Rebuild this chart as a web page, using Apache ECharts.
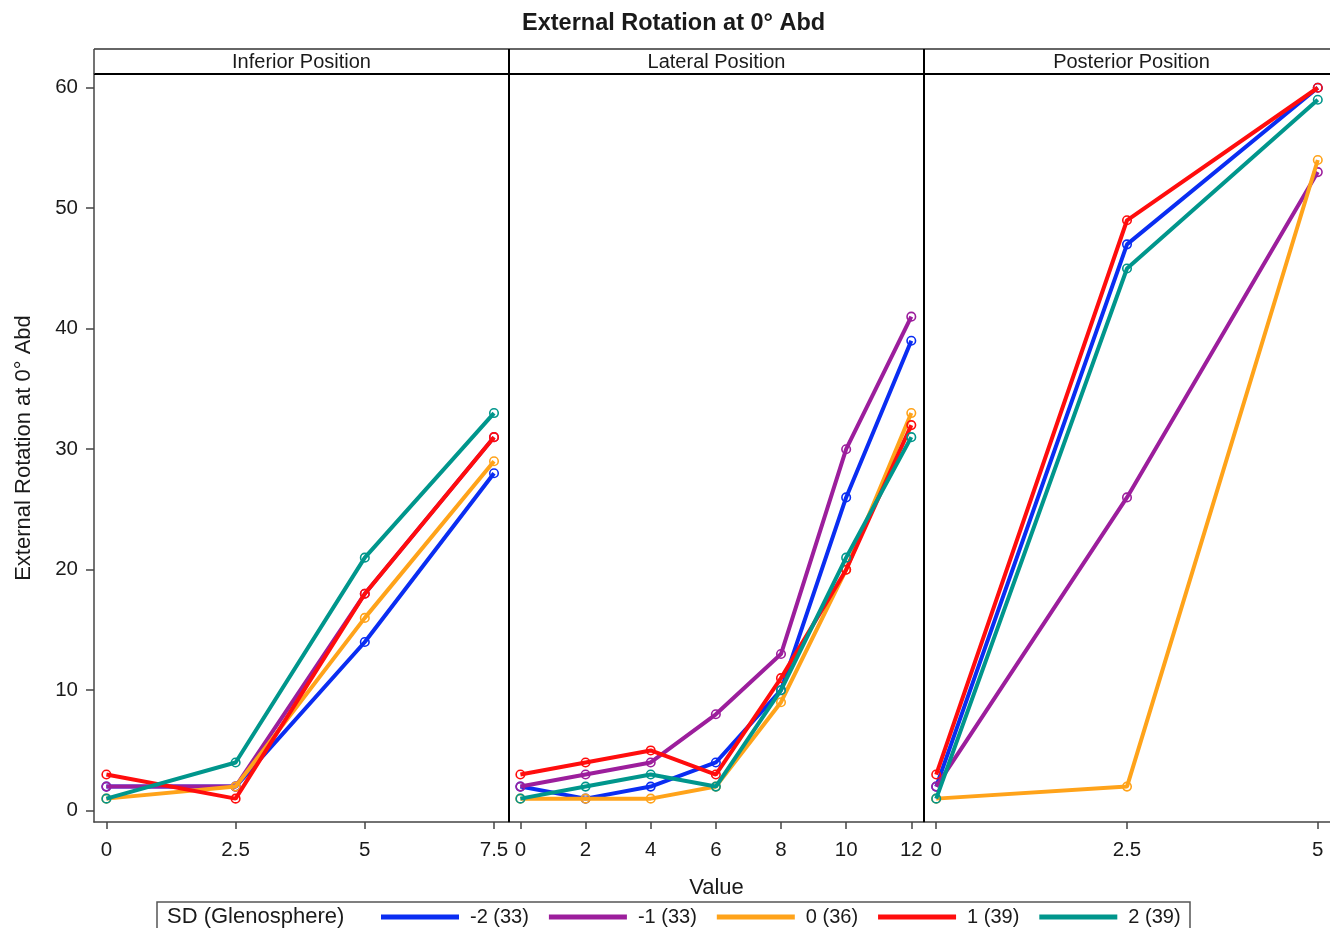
<!DOCTYPE html>
<html>
<head>
<meta charset="utf-8">
<script src="https://cdn.jsdelivr.net/npm/echarts@6/dist/echarts.min.js"></script>
<style>
  html, body { margin: 0; padding: 0; background: #fff; }
  #chart { width: 1330px; height: 928px; }
</style>
</head>
<body>
<div id="chart"></div>
<script>
// Panels and groups
const panelNames = ['Inferior Position', 'Lateral Position', 'Posterior Position'];
const groupNames = ['-2 (33)', '-1 (33)', '0 (36)', '1 (39)', '2 (39)'];
const groupColors = ['#0a2df2', '#9c1e9c', '#ffa31a', '#ff0d0d', '#00968c'];

// Inferior position: x values and one series per SD group
const inferiorX = [0, 2.5, 5, 7.5];
const inferiorNeg2 = [2, 2, 14, 28];
const inferiorNeg1 = [2, 2, 18, 31];
const inferiorZero = [1, 2, 16, 29];
const inferiorPos1 = [3, 1, 18, 31];
const inferiorPos2 = [1, 4, 21, 33];

// Lateral position
const lateralX = [0, 2, 4, 6, 8, 10, 12];
const lateralNeg2 = [2, 1, 2, 4, 10, 26, 39];
const lateralNeg1 = [2, 3, 4, 8, 13, 30, 41];
const lateralZero = [1, 1, 1, 2, 9, 20, 33];
const lateralPos1 = [3, 4, 5, 3, 11, 20, 32];
const lateralPos2 = [1, 2, 3, 2, 10, 21, 31];

// Posterior position
const posteriorX = [0, 2.5, 5];
const posteriorNeg2 = [2, 47, 60];
const posteriorNeg1 = [2, 26, 53];
const posteriorZero = [1, 2, 54];
const posteriorPos1 = [3, 49, 60];
const posteriorPos2 = [1, 45, 59];

// Tick labels
const inferiorTicks = [0, 2.5, 5, 7.5];
const lateralTicks = [0, 2, 4, 6, 8, 10, 12];
const posteriorTicks = [0, 2.5, 5];
const yTicks = [0, 10, 20, 30, 40, 50, 60];

const panelX = [inferiorX, lateralX, posteriorX];
const panelSeries = [
  [inferiorNeg2, inferiorNeg1, inferiorZero, inferiorPos1, inferiorPos2],
  [lateralNeg2, lateralNeg1, lateralZero, lateralPos1, lateralPos2],
  [posteriorNeg2, posteriorNeg1, posteriorZero, posteriorPos1, posteriorPos2]
];
const panelTicks = [inferiorTicks, lateralTicks, posteriorTicks];
const panelRange = [[-0.24, 7.79], [-0.35, 12.39], [-0.16, 5.16]];
const yRange = [-0.94, 61.14];

// Layout
const FONT = "'Liberation Sans', Arial, sans-serif";
const TEXT = '#1a1a1a';
const AXIS = '#444';
const PLOT_LEFT = 94, PANEL_W = 415, PLOT_TOP = 74, PLOT_BOTTOM = 822, HEAD_TOP = 49;
const PLOT_RIGHT = PLOT_LEFT + PANEL_W * 3;

const grids = [], xAxes = [], yAxes = [], series = [];
panelNames.forEach((name, p) => {
  grids.push({
    left: PLOT_LEFT + p * PANEL_W, top: PLOT_TOP,
    width: PANEL_W, height: PLOT_BOTTOM - PLOT_TOP,
    containLabel: false
  });
  xAxes.push({
    type: 'value', gridIndex: p,
    min: panelRange[p][0], max: panelRange[p][1],
    axisLine: { show: true, onZero: false, lineStyle: { color: AXIS, width: 1.5 } },
    axisTick: { show: true, length: 7, customValues: panelTicks[p], lineStyle: { color: AXIS, width: 1.5 } },
    axisLabel: { customValues: panelTicks[p], fontSize: 20.5, color: TEXT, fontFamily: FONT, margin: 18 },
    splitLine: { show: false },
    name: p === 1 ? 'Value' : '',
    nameLocation: 'middle', nameGap: 55,
    nameTextStyle: { fontSize: 22, color: TEXT, fontFamily: FONT }
  });
  yAxes.push({
    type: 'value', gridIndex: p,
    min: yRange[0], max: yRange[1],
    show: p === 0,
    axisLine: { show: true, onZero: false, lineStyle: { color: AXIS, width: 1.5 } },
    axisTick: { show: true, length: 8, customValues: yTicks, lineStyle: { color: AXIS, width: 1.5 } },
    axisLabel: { customValues: yTicks, fontSize: 20.5, color: TEXT, fontFamily: FONT, margin: 16 },
    splitLine: { show: false },
    name: p === 0 ? 'External Rotation at 0° Abd' : '',
    nameLocation: 'middle', nameGap: 59,
    nameTextStyle: { fontSize: 22, color: TEXT, fontFamily: FONT }
  });
  panelSeries[p].forEach((vals, g) => {
    series.push({
      type: 'line', name: groupNames[g],
      xAxisIndex: p, yAxisIndex: p,
      data: panelX[p].map((x, k) => [x, vals[k]]),
      symbol: 'circle', symbolSize: 8.5, showAllSymbol: true,
      lineStyle: { width: 4, color: groupColors[g] },
      itemStyle: { color: 'rgba(255,255,255,0)', borderColor: groupColors[g], borderWidth: 1.6 },
      emphasis: { disabled: true },
      z: 2 + g,
      clip: false
    });
  });
});

// Panel headers and dividers
const graphics = [];
graphics.push({
  type: 'line', shape: { x1: PLOT_LEFT, y1: HEAD_TOP, x2: PLOT_RIGHT, y2: HEAD_TOP },
  style: { stroke: '#333', lineWidth: 1.5 }, z: 10
});
graphics.push({
  type: 'line', shape: { x1: PLOT_LEFT, y1: PLOT_TOP, x2: PLOT_RIGHT, y2: PLOT_TOP },
  style: { stroke: '#000', lineWidth: 2 }, z: 10
});
graphics.push({
  type: 'line', shape: { x1: PLOT_LEFT, y1: HEAD_TOP, x2: PLOT_LEFT, y2: PLOT_TOP },
  style: { stroke: AXIS, lineWidth: 1.5 }, z: 10
});
[1, 2].forEach(i => {
  const x = PLOT_LEFT + i * PANEL_W;
  graphics.push({
    type: 'line', shape: { x1: x, y1: HEAD_TOP, x2: x, y2: PLOT_BOTTOM },
    style: { stroke: '#000', lineWidth: 2 }, z: 10
  });
});
panelNames.forEach((name, p) => {
  graphics.push({
    type: 'text', x: PLOT_LEFT + p * PANEL_W + PANEL_W / 2, y: (HEAD_TOP + PLOT_TOP) / 2 + 1,
    style: { text: name, fill: TEXT, font: '20px ' + FONT, align: 'center', verticalAlign: 'middle' },
    z: 10
  });
});

// Legend frame and its caption
graphics.push({
  type: 'rect', shape: { x: 157, y: 902, width: 1033, height: 40 },
  style: { fill: 'none', stroke: '#555', lineWidth: 1.5 }, z: 10
});
graphics.push({
  type: 'text', x: 167, y: 917,
  style: { text: 'SD (Glenosphere)', fill: TEXT, font: '22px ' + FONT, align: 'left', verticalAlign: 'middle' },
  z: 10
});

const chart = echarts.init(document.getElementById('chart'), null, { renderer: 'canvas' });
chart.setOption({
  backgroundColor: '#fff',
  animation: false,
  title: {
    text: 'External Rotation at 0° Abd',
    left: 522, top: 12, padding: 0,
    textStyle: { fontSize: 23.5, fontWeight: 'bold', color: TEXT, fontFamily: FONT }
  },
  legend: {
    left: 381, top: 906, padding: 0,
    itemWidth: 78, itemHeight: 5, itemGap: 20,
    icon: 'rect', selectedMode: false,
    data: groupNames.map((n, i) => ({ name: n, itemStyle: { color: groupColors[i], borderWidth: 0 } })),
    textStyle: { fontSize: 20, color: TEXT, fontFamily: FONT, lineHeight: 22, padding: [0, 0, 0, 6] }
  },
  grid: grids,
  xAxis: xAxes,
  yAxis: yAxes,
  series: series,
  graphic: graphics
});
</script>
</body>
</html>
